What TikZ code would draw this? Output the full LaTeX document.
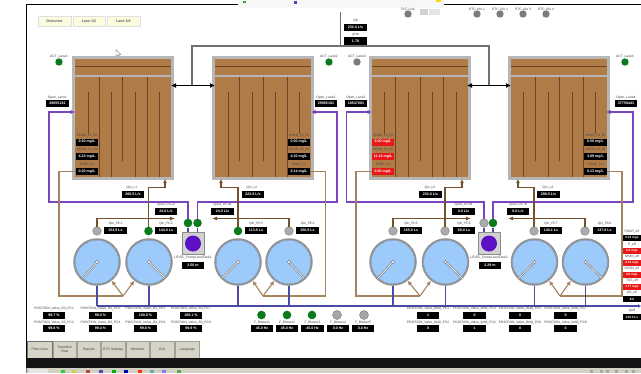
\documentclass[tikz,border=0pt]{standalone}
\usepackage{fontspec}
\setmainfont{Liberation Sans}
\usetikzlibrary{arrows.meta,calc}
\definecolor{wood}{HTML}{AF7C48}
\definecolor{woodline}{HTML}{6A4526}
\definecolor{frameg}{HTML}{B6B6B6}
\definecolor{purp}{HTML}{7B45BE}
\definecolor{bluep}{HTML}{4B4AA6}
\definecolor{tanl}{HTML}{A5835F}
\definecolor{qinl}{HTML}{75502F}
\definecolor{pumpb}{HTML}{9CCBFB}
\definecolor{grn}{HTML}{0C7A1C}
\definecolor{vgrey}{HTML}{ABABAB}
\definecolor{dgrey}{HTML}{7C7C7C}
\definecolor{redb}{HTML}{E81818}
\definecolor{btn}{HTML}{D6D3C7}
\definecolor{ylw}{HTML}{FBFBDD}
\definecolor{lvl}{HTML}{5B10C4}
\tikzset{
  valb/.style={fill=black,text=white,font=\fontsize{3.6}{4}\selectfont\bfseries,minimum width=22.5pt,minimum height=7pt,inner sep=0pt},
  redv/.style={valb,fill=redb},
  effb/.style={font=\fontsize{3.1}{4}\selectfont\bfseries,minimum width=18pt,minimum height=6.5pt},
  lab/.style={font=\fontsize{3.3}{4}\selectfont,text=black!75,inner sep=0pt},
  tankc/.style={fill=frameg,minimum width=102pt,minimum height=124pt,inner sep=0pt},
  parts/.style={draw=woodline,line width=0.8pt},
  pumpc/.style={circle,fill=pumpb,draw=vgrey!85!black,line width=1.5pt,minimum size=46pt,inner sep=0pt},
  hand/.style={draw=dgrey,line width=2pt},
  handin/.style={draw=white!85!gray,line width=0.8pt},
  pivot/.style={circle,fill=white,draw=dgrey,line width=0.5pt,minimum size=3.6pt,inner sep=0pt},
  gval/.style={circle,fill=grn,minimum size=8.6pt,inner sep=0pt},
  xval/.style={circle,fill=vgrey,draw=dgrey,line width=0.4pt,minimum size=8.6pt,inner sep=0pt},
  gled/.style={circle,fill=grn,minimum size=7.4pt,inner sep=0pt},
  xled/.style={circle,fill=dgrey,minimum size=7.4pt,inner sep=0pt},
  air/.style={draw=dgrey!90!black,line width=1.2pt},
  bidir/.style={draw=black,line width=1.1pt,{Latex[length=5pt,width=5pt]}-{Latex[length=5pt,width=5pt]}},
  purl/.style={draw=purp,line width=1.1pt},
  bll/.style={draw=bluep,line width=1.1pt},
  tanp/.style={draw=tanl,line width=1.1pt},
  qinp/.style={draw=qinl,line width=1.1pt},
  tabbtn/.style={fill=btn,draw=btn!75!black,line width=0.3pt,font=\fontsize{3.4}{4}\selectfont,text=black!75,inner sep=0pt,align=center,minimum height=17pt},
  topbtn/.style={fill=ylw,draw=black!12,line width=0.4pt,font=\fontsize{3.6}{4}\selectfont\bfseries,text=black!65,inner sep=0pt,minimum height=10pt},
  lvbox/.style={fill=black!18,draw=black!45,line width=0.5pt,minimum size=22pt,inner sep=0pt},
  lvcirc/.style={circle,fill=lvl,minimum size=16pt,inner sep=0pt}
}
\newcommand{\tankdraw}[2]{%name, left x
  \node[tankc] (#1) at ({#2+51},118) {};
  \fill[wood] ({#2+3},59) rectangle ({#2+99},75);
  \draw[woodline,line width=0.9pt] ({#2+3},66.5) -- ({#2+99},66.5);
  \fill[wood] ({#2+3},77) rectangle ({#2+99},177);
}
\newcommand{\pump}[3]{%name, x, tip x
  \node[pumpc] (#1) at (#2,262) {};
  \draw[black!50,line width=0.3pt] (#2,262) circle (21.8);
  \draw[hand] (#2,262) -- (#3,278);
  \draw[handin] (#2,262) -- (#3,278);
  \node[pivot] at (#2,262) {};
}
\begin{document}
\begin{tikzpicture}[x=1pt,y=-1pt]
\useasboundingbox (0,0) rectangle (641,373);
\fill[white] (0,0) rectangle (641,373);
\begin{scope}
\clip (0,0) rectangle (641,373);
% frame
\draw[black,line width=1.1pt] (26.5,358) -- (26.5,4.5) -- (240,4.5);
\draw[black,line width=1.1pt] (444,4.5) -- (641,4.5);
\fill[black!3] (238,0) rectangle (444,8);
\fill[blue!45!gray] (294,1) rectangle (297,4);
\fill[yellow!75!orange] (436,0) rectangle (441,2);
\fill[black!18] (420,9) rectangle (428,15);
\fill[black!10] (429,9) rectangle (440,15);
\fill[black!30!green!50!gray] (243,1) rectangle (246,3);
% top buttons
\node[topbtn,minimum width=33pt] (bo) at (54.5,21) {Overview};
\node[topbtn,minimum width=32pt] (bl) at (89,21) {Lane 1/2};
\node[topbtn,minimum width=33pt] (br) at (123.5,21) {Lane 3/4};
% cursor
\draw[black!55,fill=white,line width=0.35pt] (116,49.5) -- (116,56.5) -- (117.8,54.8) -- (119,57) -- (119.8,56.6) -- (118.8,54.5) -- (121,54.5) -- cycle;
% tanks
\tankdraw{t1}{72}
\tankdraw{t2}{212}
\tankdraw{t3}{369}
\tankdraw{t4}{507.5}
\foreach \x in {99,147,395,443,287,583} \draw[parts] (\x,77) -- (\x,177);
\foreach \x in {122,239,263,420,535,559} \draw[parts] (\x,77) -- (\x,161);
\foreach \x in {111,135,159,228,252,275,408,432,456,523,548,572} \draw[parts] (\x,92) -- (\x,177);
\foreach \x in {88,299,384,595} \draw[parts] (\x,92) -- (\x,134);
% air
\coordinate (airL) at (192,46);
\coordinate (airR) at (489,46);
\coordinate (airT) at (340.5,12);
\coordinate (airM) at (340.5,46);
\coordinate (hL) at (192,85.5);
\coordinate (hR) at (489,85.5);
\draw[air] (hL) -- (airL) -- (airR) -- (hR);
\draw[air] (airT) -- (airM);
\coordinate (b1) at (171,85.5); \coordinate (b2) at (215,85.5);
\coordinate (b3) at (467,85.5); \coordinate (b4) at (511,85.5);
\draw[bidir] (b1) -- (b2);
\draw[bidir] (b3) -- (b4);
% Qin / pH
\node[lab] (lqin) at (356,21) {Qin};
\node[valb] (vqin) at (355.5,27.5) {232.4 L/s};
\node[lab] (lph) at (356,35) {pHin};
\node[valb,minimum height=8pt] (vph) at (355.5,41) {1.78};
% ACT
\node[gled] (a1) at (59,62) {}; \node[lab] (la1) at (59,57) {ACT\_Lane1};
\node[gled] (a2) at (329,62) {}; \node[lab] (la2) at (329,57) {ACT\_Lane2};
\node[xled] (a3) at (357,62) {}; \node[lab] (la3) at (357,57) {ACT\_Lane3};
\node[gled] (a4) at (625,62) {}; \node[lab] (la4) at (625,57) {ACT\_Lane4};
% top status
\node[xled] (plc) at (408,14) {}; \node[lab] (lplc) at (408,9) {PLC Live};
\foreach \x/\n in {477/1,500/2,523/3,546/4}{
  \node[xled] (rtc\n) at (\x,14) {}; \node[lab] (lrtc\n) at (\x,9) {RTC Life \n};
}
% open
\node[lab] (lo1) at (57.5,98) {Open\_Lane1}; \node[valb] (o1) at (57.5,103.5) {29055181};
\node[lab] (lo2) at (326,98) {Open\_Lane2}; \node[valb] (o2) at (326,103.5) {29085181};
\node[lab] (lo3) at (356,98) {Open\_Lane3}; \node[valb] (o3) at (356,103.5) {18547681};
\node[lab] (lo4) at (626,98) {Open\_Lane4}; \node[valb] (o4) at (626,103.5) {37750441};
% tank values
\node[lab] (ln1) at (87,135.5) {NH4N\_L1\_DI}; \node[valb] (n1) at (87,142) {0.20 mg/L};
\node[lab] (ln1b) at (87,150) {NO3N\_L1\_DI}; \node[valb] (m1) at (87,156.5) {4.23 mg/L};
\node[lab] (ln1c) at (87,165) {PO4P\_L1}; \node[valb] (po1) at (87,171.5) {0.20 mg/L};
\node[lab] (ln2) at (299,135.5) {NH4N\_L2\_DI}; \node[valb] (n2) at (299,142) {0.00 mg/L};
\node[lab] (ln2b) at (299,150) {NO3N\_L2\_DI}; \node[valb] (m2) at (299,156.5) {4.20 mg/L};
\node[lab] (ln2c) at (299,165) {PO4P\_L2}; \node[valb] (po2) at (299,171.5) {0.14 mg/L};
\node[lab] (ln3) at (383,135.5) {NH4N\_L3\_DI}; \node[redv] (n3) at (383,142) {0.00 mg/L};
\node[lab] (ln3b) at (383,150) {NO3N\_L3\_DI}; \node[redv] (m3) at (383,156.5) {11.14 mg/L};
\node[lab] (ln3c) at (383,165) {PO4P\_L3}; \node[redv] (po3) at (383,171.5) {0.00 mg/L};
\node[lab] (ln4) at (595.5,135.5) {NH4N\_L4\_DI}; \node[valb] (n4) at (595.5,142) {0.50 mg/L};
\node[lab] (ln4b) at (595.5,150) {NO3N\_L4\_DI}; \node[valb] (m4) at (595.5,156.5) {3.89 mg/L};
\node[lab] (ln4c) at (595.5,165) {PO4P\_L4}; \node[valb] (po4) at (595.5,171.5) {0.13 mg/L};
% Qin L
\node[lab] (lq1) at (132,188) {Qin\_L1}; \node[valb] (q1) at (133,194.5) {266.5 L/s};
\node[lab] (lq2) at (252,188) {Qin\_L2}; \node[valb] (q2) at (253,194.5) {222.9 L/s};
\node[lab] (lq3) at (430,188) {Qin\_L3}; \node[valb] (q3) at (430.5,194.5) {232.0 L/s};
\node[lab] (lq4) at (548,188) {Qin\_L4}; \node[valb] (q4) at (548.5,194.5) {298.0 L/s};
% overflow
\node[lab] (lq12) at (166,205) {Qove\_PC12}; \node[valb] (q12) at (166,211.5) {24.0 L/s};
\node[lab] (lq34) at (222.5,205) {Qove\_PC34}; \node[valb] (q34) at (222.5,211) {24.0 L/s};
\node[lab] (lq56) at (463.5,205) {Qove\_PC56}; \node[valb] (q56) at (463.5,211.5) {0.0 L/s};
\node[lab] (lq78) at (518,205) {Qove\_PC78}; \node[valb] (q78) at (518,211.5) {0.0 L/s};
% pumps
\pump{p1}{97}{83}
\pump{p2}{149}{165}
\pump{p3}{238}{222}
\pump{p4}{289}{304}
\pump{p5}{393}{378}
\pump{p6}{445.5}{462}
\pump{p7}{534.5}{519}
\pump{p8}{585.5}{602}
% valves
\node[xval] (v1) at (97,231) {};
\node[gval] (v2) at (148.5,231) {};
\node[gval] (v3) at (238,231) {};
\node[xval] (v4) at (289,231) {};
\node[xval] (v5) at (393,231) {};
\node[xval] (v6) at (445,231) {};
\node[xval] (v7) at (534,231) {};
\node[xval] (v8) at (585,231) {};
\foreach \n/\x/\v in {1/115.5/153.9 L\/s,2/166/144.0 L\/s,3/256/113.9 L\/s,4/307.5/156.9 L\/s,5/411/155.0 L\/s,6/464/69.0 L\/s,7/551/140.1 L\/s,8/604.5/137.8 L\/s}{
  \node[lab] (lqp\n) at (\x,224) {Qin\_PC\n};
  \node[valb] (qp\n) at (\x,230.5) {\v};
}
% level
\node[lvbox] (lv1) at (193,243) {};
\node[lvcirc] (lc1) at (193,243.5) {};
\node[lab] (llv1) at (193,258) {LEVEL\_PumpLevelTank1};
\node[valb] (vlv1) at (193,265.5) {2.50 m};
\node[lvbox] (lv2) at (489,243) {};
\node[lvcirc] (lc2) at (489,243.5) {};
\node[lab] (llv2) at (489,258) {LEVEL\_PumpLevelTank2};
\node[valb] (vlv2) at (490,265.5) {2.29 m};
% overflow valves
\node[gval] (c1) at (188,223) {};
\node[gval] (c2) at (197.5,223) {};
\node[xval] (c3) at (484,223) {};
\node[gval] (c4) at (493,223) {};
% purple
\coordinate (in1) at (75,112); \coordinate (in2) at (311,112); \coordinate (in3) at (372,112); \coordinate (in4) at (606,112);
\coordinate (pc1) at (49,202); \coordinate (pc2) at (337,202); \coordinate (pc3) at (346.5,202); \coordinate (pc4) at (633,202);
\draw[purl,-{Latex[length=4.5pt,width=4.5pt]}] (c1.north) |- (pc1) |- (in1);
\draw[purl,-{Latex[length=4.5pt,width=4.5pt]}] (c2.north) |- (pc2) |- (in2);
\draw[purl,-{Latex[length=4.5pt,width=4.5pt]}] (c3.north) |- (pc3) |- (in3);
\draw[purl,-{Latex[length=4.5pt,width=4.5pt]}] (c4.north) |- (pc4) |- (in4);
\draw[bll] (c1.south) -- (c1.south |- lv1.north);
\draw[bll] (c2.south) -- (c2.south |- lv1.north);
\draw[bll] (c3.south) -- (c3.south |- lv2.north);
\draw[bll] (c4.south) -- (c4.south |- lv2.north);
% Qin to tanks
\coordinate (tq1) at (165,179); \coordinate (tq2) at (221,179); \coordinate (tq3) at (462,179); \coordinate (tq4) at (518,179);
\draw[qinp,-{Latex[length=4pt,width=4pt]}] (v2.north) -- ++(0,-38.7) -| (tq1);
\draw[qinp,-{Latex[length=4pt,width=4pt]}] (v3.north) -- ++(0,-38.7) -| (tq2);
\draw[qinp,-{Latex[length=4pt,width=4pt]}] (v6.north) -- ++(0,-38.7) -| (tq3);
\draw[qinp,-{Latex[length=4pt,width=4pt]}] (v7.north) -- ++(0,-38.7) -| (tq4);
% Qin to overflow side
\coordinate (ta1) at (175,218.5); \coordinate (ta2) at (212,218.5); \coordinate (ta3) at (471,218.5); \coordinate (ta4) at (508,218.5);
\draw[qinp,-{Latex[length=5pt,width=4pt]}] (v1.north) |- (ta1);
\draw[qinp,-{Latex[length=5pt,width=4pt]}] (v4.north) |- (ta2);
\draw[qinp,-{Latex[length=5pt,width=4pt]}] (v5.north) |- (ta3);
\draw[qinp,-{Latex[length=5pt,width=4pt]}] (v8.north) |- (ta4);
% PO4 dosing
\coordinate (j1) at (123,296); \coordinate (j2) at (263,296); \coordinate (j3) at (420,296); \coordinate (j4) at (560,296);
\coordinate (k1) at (59,171.5); \coordinate (k2) at (325.5,171.5); \coordinate (k3) at (356,171.5); \coordinate (k4) at (622,171.5);
\draw[tanp] (po1.west) -- (k1) |- (j1);
\draw[tanp] (po2.east) -- (k2) |- (j2);
\draw[tanp] (po3.west) -- (k3) |- (j3);
\draw[tanp] (po4.east) -- (k4) |- (j4);
\foreach \j/\a/\b in {j1/p1/p2,j2/p3/p4,j3/p5/p6,j4/p7/p8}{
  \draw[tanp,-{Latex[length=4.5pt,width=4.5pt]}] (\j) -- (\a.-52);
  \draw[tanp,-{Latex[length=4.5pt,width=4.5pt]}] (\j) -- (\b.-128);
}
% blue header
\coordinate (bs) at (97,306); \coordinate (be) at (641,306);
\draw[bll,-{Latex[length=3pt,width=4pt]}] (bs) -- (be);
\foreach \p in {p1,p2,p3,p4,p5,p6,p7,p8} \draw[bll] (\p.south) -- (\p.south |- bs);
% positions
\foreach \n/\x/\v/\w in {1/54/99.7 \%/99.8 \%,3/100.5/99.0 \%/99.4 \%,5/145.5/100.0 \%/99.8 \%,7/191/100.1 \%/99.9 \%}{
  \node[lab] (lb\n) at (\x,309) {POSITION\_Valve\_B3\_PC\n};
  \node[valb] (vb\n) at (\x,315.5) {\v};
  \pgfmathtruncatemacro{\m}{\n+1}
  \node[lab] (lb\m) at (\x,322.5) {POSITION\_Valve\_B3\_PC\m};
  \node[valb] (vb\m) at (\x,328.5) {\w};
}
\foreach \n/\x/\v/\w in {1/428/1/0,3/474.5/0/1,5/520/0/0,7/565.5/0/0}{
  \node[lab] (lw\n) at (\x,309) {POSITION\_Valve\_W40\_PC\n};
  \node[valb] (vw\n) at (\x,315.5) {\v};
  \pgfmathtruncatemacro{\m}{\n+1}
  \node[lab] (lw\m) at (\x,322.5) {POSITION\_Valve\_W40\_PC\m};
  \node[valb] (vw\m) at (\x,328.5) {\w};
}
% blowers
\foreach \n/\x/\bx in {1/261.5/262,2/287/287,3/312/312.5}{
  \node[gval] (bl\n) at (\x,315) {};
  \node[lab] (lbl\n) at (\bx,322.5) {F\_Blower\n};
  \node[valb] (vbl\n) at (\bx,328.5) {45.0 Hz};
}
\foreach \n/\x/\bx in {4/337/338,5/364/363}{
  \node[xval,minimum size=9pt,fill=black!35] (bl\n) at (\x,315) {};
  \node[lab] (lbl\n) at (\bx,322.5) {F\_Blower\n};
  \node[valb] (vbl\n) at (\bx,328.5) {0.0 Hz};
}
% effluent column
\foreach \nm/\t/\y/\v/\s in {le1/POAP\_eff/232/0.23 mg\/L/valb,le2/P\_eff/245/0.2 mg\/L/redv,le3/NH4N\_eff/257/0.31 mg\/L/redv,le4/NO3N\_eff/269/4.0 mg\/L/redv,le5/TSS\_eff/281/1.77 mg\/L/redv,le6/pH\_eff/293/8.0/valb,le7/Qeff/311/215.3 L\/s/valb}{
  \node[lab] (\nm) at (632,\y) {\t};
  \node[\s,effb] (v\nm) at (632,{\y+6}) {\v};
}
% bottom tabs
\foreach \nm/\xa/\xb/\t in {ta/27/52.5/Plant View,tb/53/76.5/Transition\\View,tc/77/100.5/Reports,td/101/125.5/RTC Settings,te/126/149.5/Minimize,tf/150/174.5/Exit,tg/175/199.5/Language}{
  \node[tabbtn,minimum width={\xb-\xa}] (\nm) at ({(\xa+\xb)/2},349.5) {\t};
}
\draw[black!55,line width=0.5pt] (ta.south west) rectangle (ta.north east);
% black bar and taskbar
\fill[black!92] (26,358) rectangle (641,368);
\fill[btn!95!gray] (26,368) rectangle (641,373);
\fill[black!55] (26,368) rectangle (26.8,373);
\foreach \x/\c in {61/green!60!gray,72/yellow!60!gray,86/red!50!gray,99/blue!40!gray,112/green!70!black,124/blue!70!black,138/red!60!orange,150/cyan!40!gray,162/blue!50!white,177/green!30!gray}
  \fill[\c] (\x,370) rectangle ({\x+4},373);
\fill[white!80!gray] (29,369) rectangle (48,373);
\foreach \x in {590,600,606,615,625,632} \fill[black!35] (\x,370) rectangle ({\x+3},373);
\end{scope}
\end{tikzpicture}
\end{document}
